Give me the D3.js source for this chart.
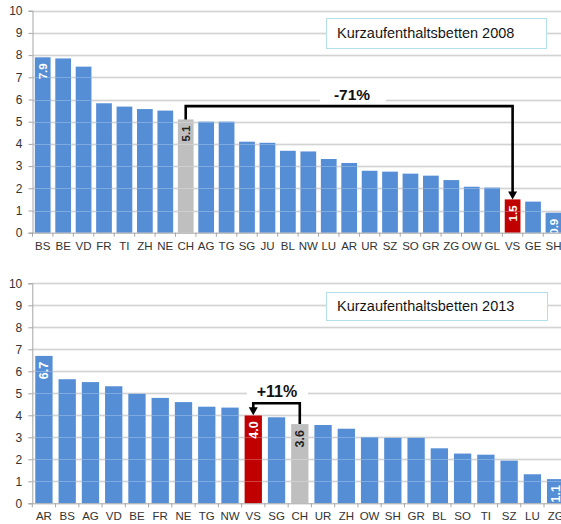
<!DOCTYPE html>
<html><head><meta charset="utf-8">
<script src="https://cdn.jsdelivr.net/npm/d3@7"></script>
<style>body{margin:0;background:#fff;}svg{display:block;font-family:"Liberation Sans",Arial,sans-serif;}</style>
</head><body>
<svg id="c" width="561" height="524"></svg>
<script>
// ---- Data ----
const cats2008 = ["BS","BE","VD","FR","TI","ZH","NE","CH","AG","TG","SG","JU","BL","NW","LU","AR","UR","SZ","SO","GR","ZG","OW","GL","VS","GE","SH"];
const vals2008 = [7.9,7.85,7.48,5.83,5.68,5.57,5.5,5.1,5.0,5.0,4.1,4.05,3.69,3.66,3.32,3.14,2.79,2.75,2.66,2.57,2.37,2.07,2.03,1.5,1.4,0.9];
const labels2008 = {BS:"7.9", CH:"5.1", VS:"1.5", SH:"0.9"};
const cats2013 = ["AR","BS","AG","VD","BE","FR","NE","TG","NW","VS","SG","CH","UR","ZH","OW","SH","GR","BL","SO","TI","SZ","LU","ZG"];
const vals2013 = [6.7,5.64,5.51,5.32,4.98,4.79,4.6,4.39,4.35,4.0,3.91,3.6,3.56,3.39,3.01,2.98,2.98,2.5,2.26,2.21,1.94,1.32,1.1];
const labels2013 = {AR:"6.7", VS:"4.0", CH:"3.6", ZG:"1.1"};
const yTicks = [0,1,2,3,4,5,6,7,8,9,10];
const titles = ["Kurzaufenthaltsbetten 2008","Kurzaufenthaltsbetten 2013"];
const notes = [{from:"CH", to:"VS", text:"-71%", level:5.7}, {from:"CH", to:"VS", text:"+11%", level:4.55}];

const svg = d3.select("#c");
const BLUE="#558ed5", RED="#c00000", GREY="#bfbfbf";

function chart(cfg){
  const g = svg.append("g");
  const x = d3.scaleBand().domain(cfg.cats).range(cfg.xr).paddingInner(cfg.pad).paddingOuter(cfg.pad/2);
  const y = d3.scaleLinear().domain([0,10]).range(cfg.yr);
  // gridlines
  g.append("g").selectAll("line").data(yTicks.slice(1)).join("line")
    .attr("x1",cfg.xr[0]).attr("x2",561).attr("y1",d=>Math.round(y(d))+0.5).attr("y2",d=>Math.round(y(d))+0.5)
    .attr("stroke","#c4c4c4").attr("stroke-width",1.3);
  // title box
  g.append("rect").attr("x",cfg.box[0]+0.5).attr("y",cfg.box[1]+0.5).attr("width",cfg.box[2]).attr("height",cfg.box[3])
    .attr("fill","#fff").attr("stroke","#b3e0ea").attr("stroke-width",1);
  g.append("text").attr("x",cfg.box[0]+11).attr("y",cfg.box[1]+cfg.box[3]/2+5).attr("font-size",14.5).attr("fill","#111").text(cfg.title);
  // bars
  g.append("g").selectAll("rect").data(cfg.cats).join("rect")
    .attr("x",d=>x(d)).attr("width",x.bandwidth())
    .attr("y",(d,i)=>y(cfg.vals[i])).attr("height",(d,i)=>y(0)-y(cfg.vals[i]))
    .attr("fill",d=>d==="CH"?GREY:(d==="VS"?RED:BLUE));
  // faint grid over bars
  g.append("g").selectAll("line").data(yTicks.slice(1)).join("line")
    .attr("x1",cfg.xr[0]).attr("x2",561).attr("y1",d=>Math.round(y(d))+0.5).attr("y2",d=>Math.round(y(d))+0.5)
    .attr("stroke","#fff").attr("stroke-opacity",0.25).attr("stroke-width",1);
  // value labels
  g.append("g").selectAll("text").data(cfg.cats.filter(c=>cfg.labels[c])).join("text")
    .attr("transform",d=>{const v=cfg.vals[cfg.cats.indexOf(d)];return `translate(${x(d)+x.bandwidth()/2+4.5},${y(v)+6}) rotate(-90)`;})
    .attr("text-anchor","end").attr("font-size",cfg.lfs).attr("font-weight","bold")
    .attr("fill",d=>d==="CH"?"#222":"#fff").text(d=>cfg.labels[d]);
  // axes
  const ya = g.append("g").attr("transform",`translate(${cfg.xr[0]},0)`)
    .call(d3.axisLeft(y).tickValues(yTicks).tickSize(4).tickPadding(6).tickFormat(d3.format("d")));
  ya.select(".domain").attr("stroke","#a6a6a6");
  ya.selectAll(".tick line").attr("stroke","#a6a6a6");
  ya.selectAll("text").attr("font-size",12).attr("fill","#333").attr("font-family","Liberation Sans, Arial, sans-serif");
  const xa = g.append("g").attr("transform",`translate(0,${y(0)})`)
    .call(d3.axisBottom(x).tickSize(0).tickPadding(9));
  xa.select(".domain").attr("stroke","#a6a6a6").attr("d",`M${cfg.xr[0]},0.5H561`);
  xa.selectAll("text").attr("font-size",cfg.xfs).attr("fill","#333").attr("font-family","Liberation Sans, Arial, sans-serif");
  // separator ticks
  g.append("g").selectAll("line").data(cfg.cats).join("line")
    .attr("x1",d=>x(d)-x.step()*x.paddingInner()/2).attr("x2",d=>x(d)-x.step()*x.paddingInner()/2)
    .attr("y1",y(0)).attr("y2",y(0)+4).attr("stroke","#a6a6a6");
  // annotation
  const n = cfg.note;
  const xf = x(n.from)+x.bandwidth()/2, xt = x(n.to)+x.bandwidth()/2;
  const vf = cfg.vals[cfg.cats.indexOf(n.from)], vt = cfg.vals[cfg.cats.indexOf(n.to)];
  const yl = y(n.level);
  g.append("rect").attr("x",cfg.noteBg[0]).attr("width",cfg.noteBg[1]-cfg.noteBg[0]).attr("y",yl-18).attr("height",14).attr("fill","#fff");
  g.append("text").attr("x",cfg.noteX).attr("y",yl-6).attr("text-anchor","middle").attr("font-size",cfg.nfs).attr("font-weight","bold").attr("fill","#111").text(n.text);
  g.append("path").attr("d",`M${xf},${y(vf)}V${yl}H${xt}V${y(vt)-6}`).attr("fill","none").attr("stroke","#000").attr("stroke-width",2.6);
  g.append("path").attr("d",`M${xt-4.5},${y(vt)-8}L${xt+4.5},${y(vt)-8}L${xt},${y(vt)}Z`).attr("fill","#000");
}

chart({cats:cats2008, vals:vals2008, labels:labels2008, xr:[32.5, 32.5+26*20.43], yr:[232.7,10.7], pad:0.23,
  box:[326,18,220,30], title:titles[0], note:notes[0], noteBg:[320,386], noteX:352, lfs:11.5, xfs:11.5, nfs:15.5});
chart({cats:cats2013, vals:vals2013, labels:labels2013, xr:[32.3, 32.3+23*23.26], yr:[503.3,283.3], pad:0.256,
  box:[326,292,221,28], title:titles[1], note:notes[1], noteBg:[247,308], noteX:277, lfs:12.5, xfs:11.5, nfs:16});
</script>
</body></html>
